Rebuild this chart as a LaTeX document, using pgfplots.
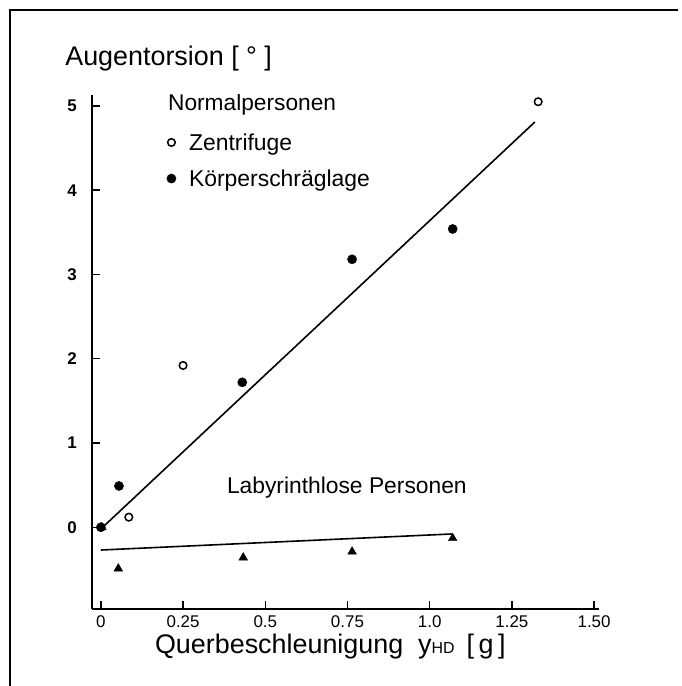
\documentclass[border=0pt]{standalone}
\usepackage{fontspec}
\setmainfont{Liberation Sans}
\usepackage{pgfplots}
\pgfplotsset{compat=1.18}
\begin{document}
\begin{tikzpicture}
\useasboundingbox (0,0) rectangle (682bp,686bp);
\draw[line width=2bp] (10bp,0bp) -- (10bp,676bp) -- (678bp,676bp);
\begin{axis}[
  at={(92bp,77bp)}, anchor=south west,
  scale only axis, width=507bp, height=514bp,
  xmin=-0.027, xmax=1.515, ymin=-0.97, ymax=5.13,
  axis x line*=bottom, axis y line*=left,
  axis line style={line width=2bp, -},
  tick align=inside, major tick length=8bp,
  every tick/.style={line width=1.5bp, black},
  xtick={0,0.25,0.5,0.75,1,1.25,1.5},
  xticklabels={0,0.25,0.5,0.75,1.0,1.25,1.50},
  ytick={0,1,2,3,4,5},
  yticklabels={0,1,2,3,4,5},
  x tick label style={font=\fontsize{17}{17}\selectfont, anchor=north, inner sep=0pt, yshift=-6bp},
  y tick label style={font=\bfseries\fontsize{17}{17}\selectfont, anchor=east, inner sep=0pt, xshift=-15bp},
  xlabel={Querbeschleunigung\ \ y{\fontsize{16}{16}\selectfont HD}\ \,[\,g\,]},
  every axis x label/.style={at={(axis description cs:0.124,-0.0875)}, anchor=base west, inner sep=0pt, font=\fontsize{27}{27}\selectfont},
  ylabel={Augentorsion [ ° ]},
  every axis y label/.style={at={(axis description cs:-0.053,1.058)}, anchor=base west, inner sep=0pt, font=\fontsize{27}{27}\selectfont},
  legend style={at={(axis cs:0.2,4.70)}, anchor=north west, draw=none, fill=none,
    font=\fontsize{23}{26}\selectfont, row sep=14bp, inner sep=0pt},
  legend cell align=left,
]
% Regressionsgerade Normalpersonen
\addplot[black, line width=1.6bp, forget plot] coordinates {(0,-0.02) (1.32,4.81)};
% Regressionsgerade labyrinthlose Personen
\addplot[black, line width=1.6bp, forget plot] coordinates {(0,-0.27) (1.065,-0.08) (1.075,-0.13)};
% Labyrinthlose Personen
\addplot[only marks, mark=triangle*, mark size=5bp, black, forget plot] coordinates {
  (0.003,0.0) (0.053,-0.49) (0.433,-0.36) (0.764,-0.29) (1.07,-0.13)};
% Zentrifuge
\addplot[only marks, mark=o, mark size=3.8bp, black, mark options={line width=1.5bp}] coordinates {
  (0.085,0.12) (0.25,1.92) (1.33,5.05)};
\addlegendentry{\hspace*{11bp}Zentrifuge}
% Koerperschraeglage
\addplot[only marks, mark=*, mark size=4.6bp, black] coordinates {
  (0,0) (0.055,0.49) (0.43,1.72) (0.764,3.18) (1.07,3.54)};
\addlegendentry{\hspace*{11bp}Körperschräglage}
\node[anchor=base west, inner sep=0pt, font=\fontsize{22.8}{22.8}\selectfont] at (axis cs:0.204,4.95) {Normalpersonen};
\node[anchor=base west, inner sep=0pt, font=\fontsize{22.9}{22.9}\selectfont] at (axis cs:0.383,0.40) {Labyrinthlose Personen};
\end{axis}
\end{tikzpicture}
\end{document}
